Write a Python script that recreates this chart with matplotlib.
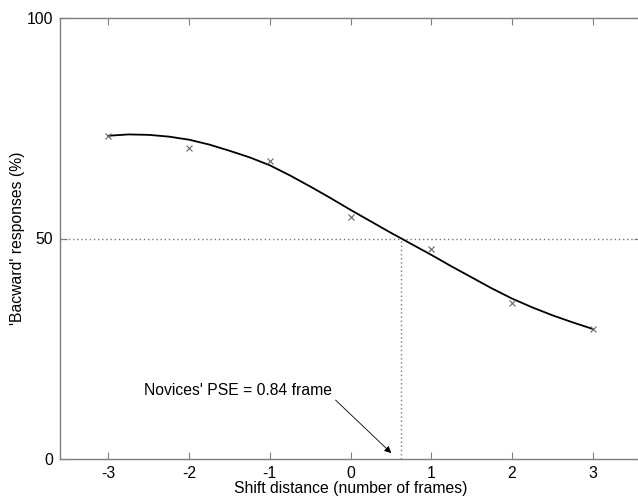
import matplotlib
matplotlib.use("Agg")
import matplotlib.pyplot as plt

plt.rcParams['font.family'] = ['Liberation Sans', 'DejaVu Sans']
plt.rcParams['axes.unicode_minus'] = False

# observed data
shift = [-3, -2, -1, 0, 1, 2, 3]
backward_pct = [73.3, 70.5, 67.6, 54.9, 47.6, 35.4, 29.5]

# fitted curve samples
curve_x = [-3, -2.75, -2.5, -2.25, -2, -1.75, -1.5, -1.25, -1, -0.75, -0.5, -0.25, 0,
           0.25, 0.5, 0.75, 1, 1.25, 1.5, 1.75, 2, 2.25, 2.5, 2.75, 3]
curve_y = [73.3, 73.6, 73.5, 73.1, 72.4, 71.3, 69.9, 68.4, 66.6, 64.3, 61.8, 59.2, 56.5,
           53.9, 51.3, 48.8, 46.3, 43.7, 41.2, 38.7, 36.4, 34.4, 32.6, 31.0, 29.5]

pse_x = 0.63
pse_level = 50
xticks = [-3, -2, -1, 0, 1, 2, 3]
yticks = [0, 50, 100]
annot_text = "Novices' PSE = 0.84 frame"

fig = plt.figure(figsize=(6.38, 4.96), dpi=100)
ax = fig.add_axes([60/638, 1 - 459/496, 581/638, 441/496])

grey = '#7f7f7f'
fs = 11.3
ax.plot(curve_x, curve_y, color='black', lw=1.3, zorder=3)
ax.plot(shift, backward_pct, linestyle='none', marker='x', color='#666666', ms=5, mew=0.8, zorder=4)

ax.axhline(pse_level, color='#777777', lw=1, ls=(0, (1, 2)), zorder=2)
ax.plot([pse_x, pse_x], [0, pse_level], color='#777777', lw=1, ls=(0, (1, 2)), zorder=2)

ax.annotate('', xy=(0.53, 0.9), xytext=(-0.21, 13.8),
            arrowprops=dict(arrowstyle='-|>', color='black', lw=0.6, mutation_scale=10))
ax.text(-1.39, 15.6, annot_text, ha='center', va='center', fontsize=fs)

ax.set_xlim(-3.6, 3.6)
ax.set_ylim(0, 100)
ax.set_xticks(xticks)
ax.set_yticks(yticks)
ax.tick_params(direction='in', length=5, color=grey, labelsize=fs, top=True, right=True, pad=5)
for s in ax.spines.values():
    s.set_color(grey)
    s.set_linewidth(1.0)
ax.spines['right'].set_visible(False)

ax.set_xlabel('Shift distance (number of frames)', fontsize=fs, labelpad=0)
ax.set_ylabel("'Bacward' responses (%)", fontsize=fs, labelpad=1)

fig.savefig('out.png', dpi=100)
